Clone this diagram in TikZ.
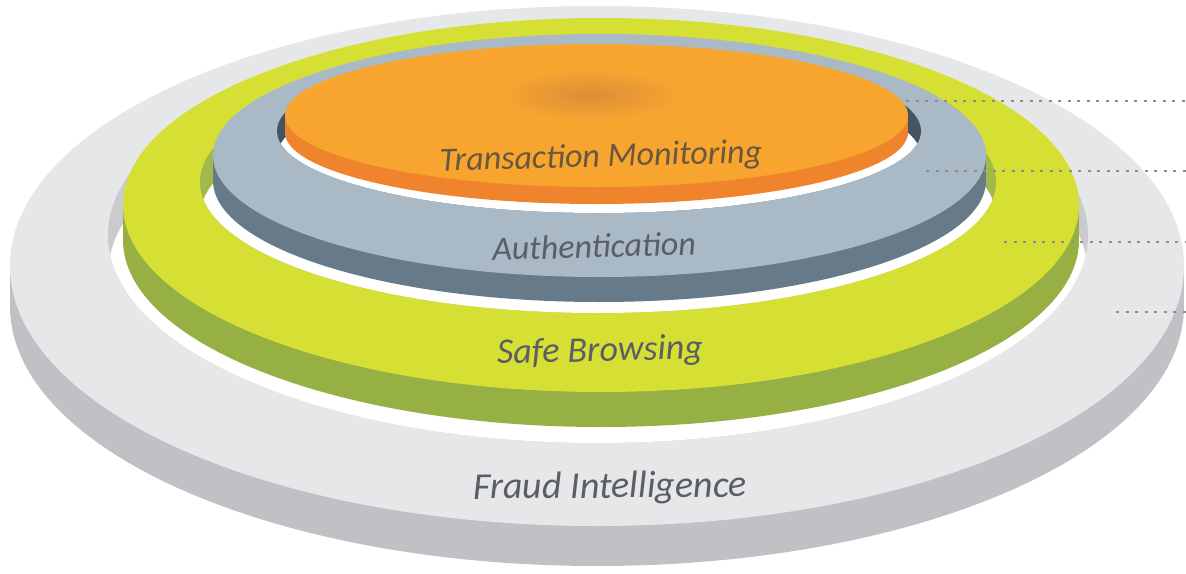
\documentclass[tikz,border=0pt]{standalone}
\usepackage{fontspec}
\setmainfont{Carlito}

\definecolor{fraudtop}{HTML}{E6E7E9}
\definecolor{fraudside}{HTML}{C0C1C4}
\definecolor{fraudwall}{HTML}{CACBCE}
\definecolor{safetop}{HTML}{D5DF34}
\definecolor{safeside}{HTML}{97B043}
\definecolor{safewall}{HTML}{A3B84A}
\definecolor{authtop}{HTML}{A9BAC6}
\definecolor{authside}{HTML}{667A8A}
\definecolor{authwall}{HTML}{435462}
\definecolor{monitortop}{HTML}{F8A530}
\definecolor{monitorside}{HTML}{F0842C}
\definecolor{monitorspot}{HTML}{DC8E36}
\definecolor{labelgrey}{HTML}{5B5E63}
\definecolor{monitorlabel}{HTML}{6A573F}
\definecolor{leadergrey}{HTML}{8A8C90}

\tikzset{
  ringlabel/.style={font=\itshape, text=labelgrey, rotate=1.5, inner sep=0pt},
  leader/.style={draw=leadergrey, line width=1.8pt, dash pattern=on 3pt off 6.5pt},
}

\begin{document}
\begin{tikzpicture}[x=1pt,y=-1pt]

        \useasboundingbox (0,0) rectangle (1186,573);

        % Fraud Intelligence layer
        \fill[fraudside] (597,306) ellipse [x radius=587, y radius=260];
        \fill[fraudside] (10,266) rectangle (1184,306);
        \fill[fraudtop] (597,266) ellipse [x radius=587, y radius=260];
        \fill[fraudwall] (598,235) ellipse [x radius=490, y radius=208];
        \begin{scope}
            \clip (598,235) ellipse [x radius=490, y radius=208];
            \fill[white] (598,275) ellipse [x radius=490, y radius=208];
        \end{scope}

        % Safe Browsing layer
        \fill[safeside] (601,240) ellipse [x radius=478, y radius=187];
        \fill[safeside] (123,205) rectangle (1079,240);
        \fill[safetop] (601,205) ellipse [x radius=478, y radius=187];
        \fill[safewall] (598,182) ellipse [x radius=398, y radius=131];
        \begin{scope}
            \clip (598,182) ellipse [x radius=398, y radius=131];
            \fill[white] (598,217) ellipse [x radius=398, y radius=131];
        \end{scope}

        % Authentication layer
        \fill[authside] (599.5,180.5) ellipse [x radius=386.5, y radius=121.5];
        \fill[authside] (213,155.5) rectangle (986,180.5);
        \fill[authtop] (599.5,155.5) ellipse [x radius=386.5, y radius=121.5];
        \fill[authwall] (599,131) ellipse [x radius=322, y radius=82];
        \begin{scope}
            \clip (599,131) ellipse [x radius=322, y radius=82];
            \fill[white] (599,156) ellipse [x radius=322, y radius=82];
        \end{scope}

        % Transaction Monitoring disk
        \fill[monitorside] (596.5,132.5) ellipse [x radius=311.5, y radius=71.5];
        \fill[monitorside] (285,115.5) rectangle (908,132.5);
        \fill[monitortop] (596.5,115.5) ellipse [x radius=311.5, y radius=71.5];
        \shade[inner color=monitorspot, outer color=monitortop] (590,95) ellipse [x radius=95, y radius=26];

        % Labels
        \node[ringlabel, text=monitorlabel, font=\fontsize{34}{34}\selectfont\itshape] (monitor) at (601,158) {Transaction Monitoring};
        \node[ringlabel, font=\fontsize{34}{34}\selectfont\itshape] (auth) at (594,246) {Authentication};
        \node[ringlabel, font=\fontsize{36}{36}\selectfont\itshape] (safe) at (600,352) {Safe Browsing};
        \node[ringlabel, rotate=-1, font=\fontsize{38}{38}\selectfont\itshape] (fraud) at (610,488) {Fraud Intelligence};

        % Leader lines
        \coordinate (monitorpin) at (906,101);
        \coordinate (authpin) at (926,171);
        \coordinate (safepin) at (1004,242);
        \coordinate (fraudpin) at (1116,312);
        \coordinate (monitorend) at (1186,101);
        \coordinate (authend) at (1186,171);
        \coordinate (safeend) at (1186,242);
        \coordinate (fraudend) at (1186,312);
        \draw[leader] (monitorpin) -- (monitorend);
        \draw[leader] (authpin) -- (authend);
        \draw[leader] (safepin) -- (safeend);
        \draw[leader] (fraudpin) -- (fraudend);

    \end{tikzpicture}
\end{document}
